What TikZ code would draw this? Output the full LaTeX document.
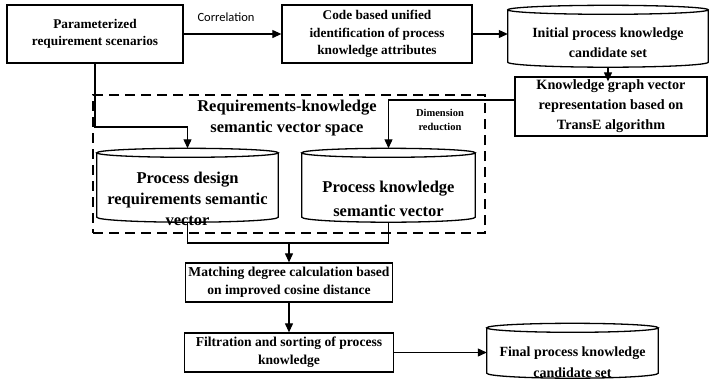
\documentclass[tikz,border=0pt]{standalone}
\usepackage{fontspec}
\setmainfont{Liberation Serif}[BoldFont={Liberation Serif Bold}]
\newfontfamily\corrfont{Carlito}
\usetikzlibrary{arrows.meta,calc}
\begin{document}
\begin{tikzpicture}[x=1pt,y=-1pt,
  box/.style={draw,line width=1.3pt,inner sep=0pt,align=center,font=\bfseries\fontsize{13.3}{17.5}\selectfont},
  cylbody/.style={draw=none,inner sep=0pt},
  cyltext/.style={align=center,inner sep=0pt,font=\bfseries\fontsize{14}{20}\selectfont},
  bigtext/.style={align=center,inner sep=0pt,font=\bfseries\fontsize{16.5}{21}\selectfont},
  arr/.style={line width=1.1pt,-{Triangle[length=9pt,width=8pt]}},
  ln/.style={line width=1.1pt}]
\useasboundingbox (0,0) rectangle (713,384);
% boxes
\node[box,minimum width=176pt,minimum height=58pt] (A) at (95,34) {Parameterized\\requirement scenarios};
\node[box,minimum width=190pt,minimum height=58pt] (B) at (377,34) {Code based unified\\identification of process\\knowledge attributes};
\node[box,minimum width=192pt,minimum height=59pt,font=\bfseries\fontsize{14.2}{20}\selectfont] (D) at (611,106.5) {Knowledge graph vector\\representation based on\\TransE algorithm};
\node[box,minimum width=207pt,minimum height=39pt,font=\bfseries\fontsize{13.6}{18}\selectfont] (G) at (289,282.5) {Matching degree calculation based\\on improved cosine distance};
\node[box,minimum width=209pt,minimum height=39pt,font=\bfseries\fontsize{13.6}{18}\selectfont] (H) at (289,352.5) {Filtration and sorting of process\\knowledge};
% cylinders
\node[cylbody,minimum width=200pt,minimum height=52pt] (C) at (608,36) {};
\node[cylbody,minimum width=181pt,minimum height=64pt] (E) at (187.5,185) {};
\node[cylbody,minimum width=173pt,minimum height=64pt] (F) at (388.5,185) {};
\node[cylbody,minimum width=171pt,minimum height=45pt] (I) at (572.5,350.5) {};
\foreach \c in {C,E,F,I}{
  \draw[line width=1.3pt] let \p1=(\c.north west),\p2=(\c.south east),\n1={(\x2-\x1)/2} in
    (\c.north west) -- (\c.south west) arc[start angle=180,end angle=360,x radius=\n1,y radius=5pt] -- (\c.north east)
    (\c.north) ellipse[x radius=\n1,y radius=4.5pt];
}
\node[cyltext] (Ct) at (608,43) {Initial process knowledge\\candidate set};
\node[cyltext,font=\bfseries\fontsize{14}{21}\selectfont] (It) at (572.5,362) {Final process knowledge\\candidate set};
\node[bigtext] (Et) at (187.5,199) {Process design\\requirements semantic\\vector};
\node[bigtext,font=\bfseries\fontsize{16.5}{24}\selectfont] (Ft) at (388.5,199) {Process knowledge\\semantic vector};
% dashed region
\node[draw,line width=1.5pt,dash pattern=on 10pt off 6pt,minimum width=392pt,minimum height=138pt,inner sep=0pt] (S) at (289,164) {};
\node[bigtext] (St) at (287,118) {Requirements-knowledge\\semantic vector space};
% labels
\node[inner sep=0pt,font=\corrfont\fontsize{12.5}{14}\selectfont] (corr) at (226,17) {Correlation};
\node[inner sep=0pt,align=center,font=\bfseries\fontsize{10.5}{14}\selectfont] (dim) at (440,120) {Dimension\\reduction};
% connectors
\draw[arr] (B.east) -- (B.east -| C.west);
\draw[arr] (A.east) -- (A.east -| B.west);
\draw[arr] ([yshift=-5pt]C.south) -- ([yshift=-5pt]C.south |- D.north);
\coordinate (K) at (0,127);
\draw[arr] (A.south) -- (A.south |- K) -| ([yshift=4.5pt]E.north);
\draw[arr] ([yshift=6.5pt]D.west) -| ([yshift=4.5pt]F.north);
\coordinate (J) at (289,243);
\draw[ln] ([yshift=-5pt]E.south) -- (E.south |- J) -- (F.south |- J) -- ([yshift=-5pt]F.south);
\draw[arr] (J) -- (G.north);
\draw[arr] (G.south) -- (H.north);
\draw[arr] (H.east) -- (H.east -| I.west);
\end{tikzpicture}
\end{document}
